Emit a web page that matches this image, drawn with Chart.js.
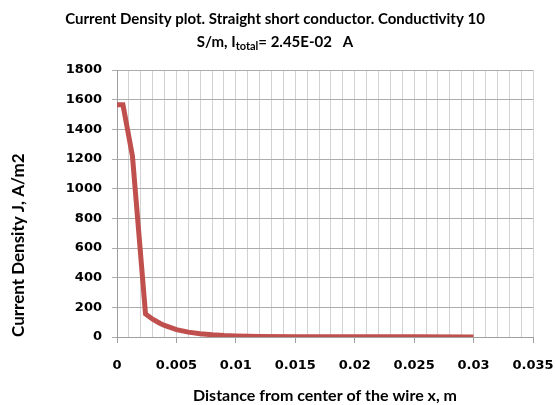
<!DOCTYPE html>
<html>
<head>
<meta charset="utf-8">
<script src="https://cdn.jsdelivr.net/npm/chart.js@4.4.0/dist/chart.umd.min.js"></script>
<style>
  html, body { margin: 0; padding: 0; background: #ffffff; }
  #wrap { width: 556px; height: 405px; position: relative; }
</style>
</head>
<body>
<div id="wrap"><canvas id="c" width="556" height="405"></canvas></div>
<script>
// ---- data ----
const distanceX = [0, 0.0005, 0.0013, 0.0024, 0.003, 0.0036, 0.004, 0.005, 0.006, 0.007, 0.008, 0.009, 0.010, 0.012, 0.015, 0.020, 0.025, 0.030];
const currentDensity = [1565, 1565, 1220, 155, 120, 93, 78, 50, 33, 22, 15, 10, 7, 4, 2, 1, 1, 0.5];
const xTickLabels = ['0', '0.005', '0.01', '0.015', '0.02', '0.025', '0.03', '0.035'];
const yTickLabels = ['0', '200', '400', '600', '800', '1000', '1200', '1400', '1600', '1800'];
const titleLine1 = 'Current Density plot. Straight short conductor. Conductivity 10';
const titleLine2Parts = ['S/m, I', 'total', '= 2.45E-02   A'];
const xAxisTitle = 'Distance from center of the wire x, m';
const yAxisTitle = 'Current Density J, A/m2';
const seriesName = 'Current density';

const points = distanceX.map((x, i) => ({ x: x, y: currentDensity[i] }));

const Y_TICK_FONT = { family: 'DejaVu Sans', weight: 'bold', size: 13 };
const X_TICK_FONT = { family: 'DejaVu Sans', weight: 'bold', size: 13, lineHeight: 3.54 };
const TITLE_FONT_FAMILY = 'Lato';

const titlePlugin = {
  id: 'twoLineTitle',
  afterDraw(chart) {
    const ctx = chart.ctx;
    const cx = chart.width / 2 - 3;
    ctx.save();
    ctx.fillStyle = '#000000';
    ctx.textBaseline = 'alphabetic';
    ctx.textAlign = 'center';
    const big = 'bold 15px ' + TITLE_FONT_FAMILY;
    const small = 'bold 11px ' + TITLE_FONT_FAMILY;
    ctx.font = big;
    ctx.fillText(titleLine1, cx, 24);
    // second line with subscript
    ctx.font = big; const w0 = ctx.measureText(titleLine2Parts[0]).width;
    ctx.font = small; const w1 = ctx.measureText(titleLine2Parts[1]).width;
    ctx.font = big; const w2 = ctx.measureText(titleLine2Parts[2]).width;
    let x = cx - (w0 + w1 + w2) / 2;
    ctx.textAlign = 'left';
    ctx.font = big; ctx.fillText(titleLine2Parts[0], x, 47); x += w0;
    ctx.font = small; ctx.fillText(titleLine2Parts[1], x, 50); x += w1;
    ctx.font = big; ctx.fillText(titleLine2Parts[2], x, 47);
    ctx.restore();
  }
};

const isMajorX = v => Math.round(v * 1000) % 5 === 0;

new Chart(document.getElementById('c'), {
  type: 'scatter',
  data: {
    datasets: [{
      label: seriesName,
      data: points,
      showLine: true,
      borderColor: '#c0504d',
      backgroundColor: '#c0504d',
      borderWidth: 5,
      pointRadius: 0,
      pointHoverRadius: 0,
      tension: 0,
      borderJoinStyle: 'miter'
    }]
  },
  options: {
    responsive: false,
    animation: false,
    devicePixelRatio: 1,
    layout: { padding: { top: 70, right: 23, bottom: 0, left: 0 } },
    plugins: {
      legend: { display: false },
      title: { display: false },
      tooltip: { enabled: false }
    },
    scales: {
      x: {
        type: 'linear',
        min: 0,
        max: 0.035,
        afterFit(scale) { scale.height = 68; },
        ticks: {
          stepSize: 0.001,
          maxTicksLimit: 100,
          autoSkip: false,
          maxRotation: 0,
          minRotation: 0,
          padding: 0,
          color: '#000000',
          font: X_TICK_FONT,
          callback(value) {
            if (!isMajorX(value)) return '';
            return xTickLabels[Math.round(value * 1000) / 5];
          }
        },
        grid: {
          color: '#d2d2d2',
          lineWidth: 1,
          tickLength: 6,
          tickColor: ctx => (ctx.tick && isMajorX(ctx.tick.value)) ? '#a0a0a0' : 'rgba(0,0,0,0)'
        },
        border: { color: '#a0a0a0', width: 1 },
        title: {
          display: true,
          text: xAxisTitle,
          color: '#000000',
          font: { family: TITLE_FONT_FAMILY, weight: 'bold', size: 16 },
          padding: { top: 0, bottom: 0 }
        }
      },
      y: {
        type: 'linear',
        min: 0,
        max: 1800,
        afterFit(scale) { scale.width = 117; },
        ticks: {
          stepSize: 200,
          padding: 10,
          color: '#000000',
          font: Y_TICK_FONT,
          callback(value) { return yTickLabels[Math.round(value / 200)]; }
        },
        grid: {
          color: '#acacac',
          lineWidth: 1,
          tickLength: 5,
          tickColor: '#acacac'
        },
        border: { color: '#a0a0a0', width: 1 },
        title: {
          display: true,
          text: yAxisTitle,
          align: 'start',
          color: '#000000',
          font: { family: TITLE_FONT_FAMILY, weight: 'bold', size: 17 },
          padding: { top: 8, bottom: 0 }
        }
      }
    }
  },
  plugins: [titlePlugin]
});
</script>
</body>
</html>
